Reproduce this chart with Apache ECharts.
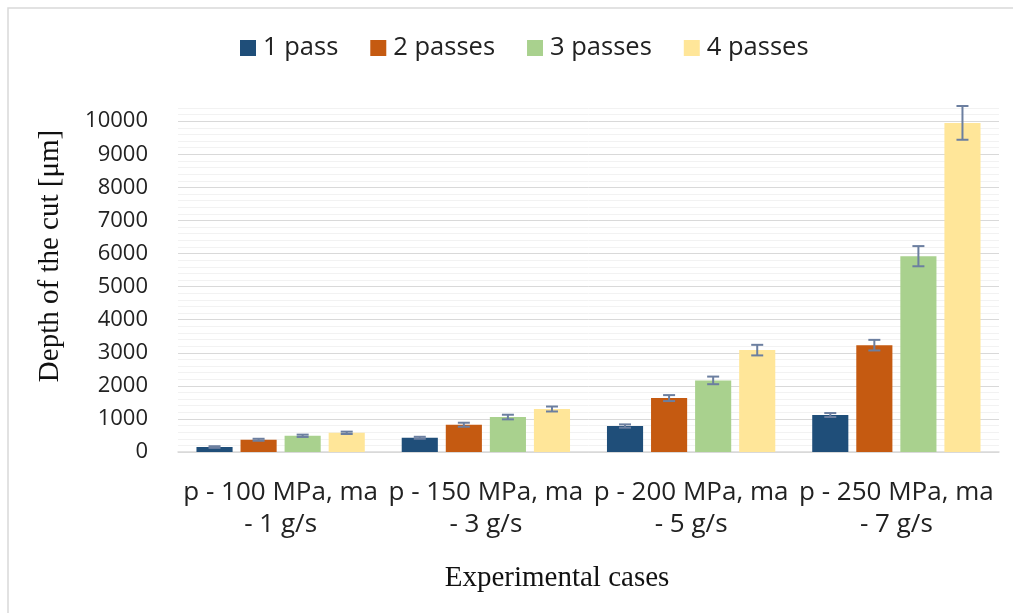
<!DOCTYPE html>
<html>
<head>
<meta charset="utf-8">
<script src="https://cdn.jsdelivr.net/npm/echarts@6/dist/echarts.min.js"></script>
<style>
  html, body { margin: 0; padding: 0; background: #fff; }
  #chart { width: 1013px; height: 613px; }
</style>
</head>
<body>
<div id="chart"></div>
<script>
// Experimental cases (pressure / abrasive mass flow)
const categories = [
  'p - 100 MPa, ma\n- 1 g/s',
  'p - 150 MPa, ma\n- 3 g/s',
  'p - 200 MPa, ma\n- 5 g/s',
  'p - 250 MPa, ma\n- 7 g/s'
];
const seriesNames = ['1 pass', '2 passes', '3 passes', '4 passes'];

// Mean depth of the cut [µm]
const pass1 = [150, 430, 785, 1118];
const pass2 = [370, 825, 1630, 3230];
const pass3 = [490, 1057, 2165, 5920];
const pass4 = [580, 1300, 3080, 9950];

// Standard deviation (error bar half-length) [µm]
const err1 = [25, 30, 50, 60];
const err2 = [30, 60, 90, 160];
const err3 = [35, 70, 115, 305];
const err4 = [35, 75, 160, 510];

const values = [pass1, pass2, pass3, pass4];
const errors = [err1, err2, err3, err4];
const colors = ['#1F4E79', '#C55A11', '#A9D18E', '#FFE699'];

const CAT_GAP = 0.18;
const BAR_GAP = 0.22;
const N = values.length;

const chart = echarts.init(document.getElementById('chart'));

// Whisker drawn at the centre of bar `si` within its category band
function errorRenderer(si) {
  return function (params, api) {
    const ci = api.value(0), v = api.value(1), e = api.value(2);
    const band = api.size([1, 0])[0];
    const used = band * (1 - CAT_GAP);
    const bw = used / (N + (N - 1) * BAR_GAP);
    const cx = api.coord([ci, 0])[0] - used / 2 + bw / 2 + si * bw * (1 + BAR_GAP);
    const yHi = api.coord([ci, v + e])[1];
    const yLo = api.coord([ci, v - e])[1];
    const half = 6;
    const style = { stroke: '#6C7FA0', lineWidth: 2 };
    return {
      type: 'group',
      children: [
        { type: 'line', shape: { x1: cx, y1: yHi, x2: cx, y2: yLo }, style },
        { type: 'line', shape: { x1: cx - half, y1: yHi, x2: cx + half, y2: yHi }, style },
        { type: 'line', shape: { x1: cx - half, y1: yLo, x2: cx + half, y2: yLo }, style }
      ]
    };
  };
}

const barSeries = values.map((arr, i) => ({
  name: seriesNames[i],
  type: 'bar',
  yAxisIndex: 1,
  data: arr,
  barGap: (BAR_GAP * 100) + '%',
  barCategoryGap: (CAT_GAP * 100) + '%',
  itemStyle: { color: colors[i] },
  emphasis: { disabled: true }
}));

const errorSeries = values.map((arr, i) => ({
  type: 'custom',
  yAxisIndex: 1,
  renderItem: errorRenderer(i),
  encode: { x: 0, y: 1 },
  data: arr.map((v, ci) => [ci, v, errors[i][ci]]),
  z: 5,
  silent: true
}));

chart.setOption({
  animation: false,
  backgroundColor: '#fff',
  color: colors,
  grid: { left: 178, right: 14, top: 108, bottom: 161, containLabel: false },
  legend: {
    data: seriesNames,
    left: 240,
    top: 34,
    padding: 0,
    itemGap: 32,
    itemWidth: 16,
    itemHeight: 16,
    icon: 'rect',
    textStyle: {
      fontFamily: 'Open Sans',
      fontSize: 25.5,
      lineHeight: 28,
      color: '#222',
      padding: [0, 0, 0, 2]
    }
  },
  xAxis: {
    type: 'category',
    data: categories,
    axisLine: { lineStyle: { color: '#D9D9D9', width: 1.5 } },
    axisTick: { show: false },
    axisLabel: {
      interval: 0,
      margin: 25,
      fontFamily: 'Open Sans',
      fontSize: 26,
      lineHeight: 32,
      color: '#222',
      align: 'center'
    }
  },
  yAxis: [
    {
      // fine 200 µm grid
      type: 'value',
      position: 'left',
      min: 0,
      max: 10400,
      interval: 200,
      axisLine: { show: false },
      axisTick: { show: false },
      axisLabel: { show: false },
      splitLine: { show: true, lineStyle: { color: '#F2F2F2', width: 1 } }
    },
    {
      type: 'value',
      position: 'left',
      min: 0,
      max: 10400,
      interval: 1000,
      axisLine: { show: false },
      axisTick: { show: false },
      axisLabel: {
        margin: 30,
        showMaxLabel: false,
        fontFamily: 'Open Sans',
        fontSize: 22,
        color: '#222',
        formatter: (v) => String(v)
      },
      splitLine: { show: true, showMaxLine: false, lineStyle: { color: '#D9D9D9', width: 1 } }
    }
  ],
  graphic: [
    {
      type: 'rect',
      shape: { x: 8, y: 8, width: 1100, height: 700 },
      style: { fill: 'none', stroke: '#D9D9D9', lineWidth: 1.5 },
      silent: true
    },
    {
      type: 'text',
      x: 50,
      y: 256,
      rotation: Math.PI / 2,
      style: {
        text: 'Depth of the cut [μm]',
        font: '29px "Liberation Serif"',
        fill: '#111',
        align: 'center',
        verticalAlign: 'middle'
      }
    },
    {
      type: 'text',
      x: 557,
      y: 578,
      style: {
        text: 'Experimental cases',
        font: '29px "Liberation Serif"',
        fill: '#111',
        align: 'center',
        verticalAlign: 'middle'
      }
    }
  ],
  series: barSeries.concat(errorSeries)
});
</script>
</body>
</html>
